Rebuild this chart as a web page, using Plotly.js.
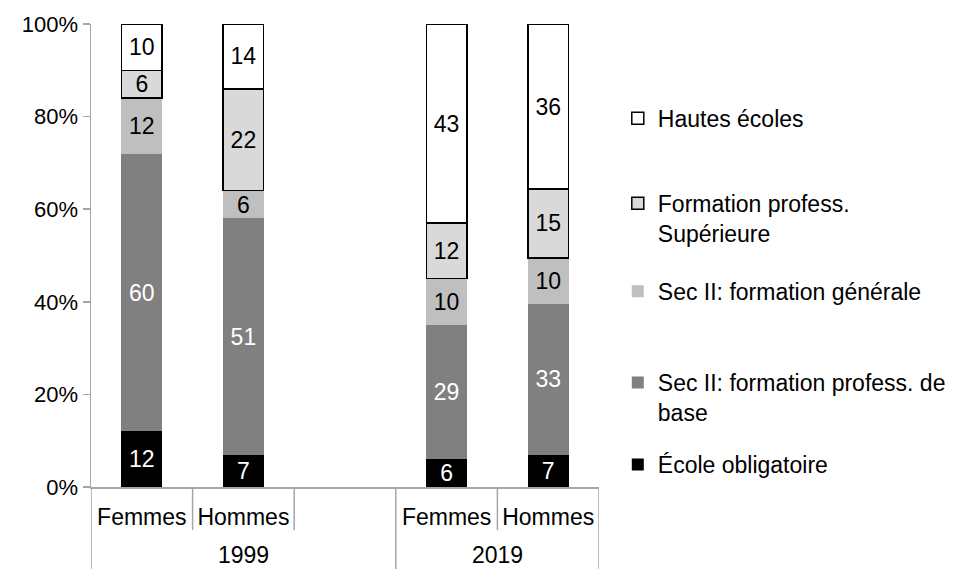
<!DOCTYPE html>
<html><head><meta charset="utf-8">
<script src="https://cdn.plot.ly/plotly-3.0.1.min.js"></script>
<style>html,body{margin:0;padding:0;background:#fff}#chart{width:965px;height:569px}</style>
</head><body><div id="chart"></div><script>
// ---- data ----
const years = ['1999', '1999', '2019', '2019'];
const sexes = ['Femmes', 'Hommes', 'Femmes', 'Hommes'];
const yearGroups = ['1999', '2019'];
const seriesNames = ['École obligatoire', 'Sec II: formation profess. de<br>base', 'Sec II: formation générale', 'Formation profess.<br>Supérieure', 'Hautes écoles'];
const ecoleObligatoire = [12, 7, 6, 7];
const secIIProfBase = [60, 51, 29, 33];
const secIIGenerale = [12, 6, 10, 10];
const formProfSup = [6, 22, 12, 15];
const hautesEcoles = [10, 14, 43, 36];
const yTicks = [0, 20, 40, 60, 80, 100];

// ---- styles ----
const FONT = 'Liberation Sans, Arial, sans-serif';
const FS = 23;
const AXIS = '#a6a6a6';
const series = [ecoleObligatoire, secIIProfBase, secIIGenerale, formProfSup, hautesEcoles];
const fills = ['#000000', '#808080', '#bfbfbf', '#d9d9d9', '#ffffff'];
const outlines = [0, 0, 0, 1.5, 1.5];
const textColors = ['#ffffff', '#ffffff', '#000000', '#000000', '#000000'];
const legendIds = ['legend5', 'legend4', 'legend3', 'legend2', 'legend'];
const legendY = [0.095, 0.272, 0.469, 0.659, 0.843];

// category keys: one per bar, plus an empty slot after the 1999 group
const keys = years.map((y, i) => sexes[i] + ' ' + y);
const GAP = ' ';
const catOrder = [];
const catGroup = [];
yearGroups.forEach((g, gi) => {
  keys.forEach((k, i) => { if (years[i] === g) { catOrder.push(k); catGroup.push(g); } });
  if (gi < yearGroups.length - 1) { catOrder.push(GAP); catGroup.push(g); }
});

const traces = series.map((vals, i) => ({
  type: 'bar',
  name: seriesNames[i],
  x: keys,
  y: vals,
  text: vals.map(String),
  texttemplate: '%{text}',
  textposition: 'inside',
  insidetextanchor: 'middle',
  constraintext: 'none',
  textangle: 0,
  textfont: {family: FONT, size: FS, color: textColors[i]},
  marker: {color: fills[i], line: {color: '#000000', width: outlines[i]}},
  cliponaxis: false,
  legend: legendIds[i],
  hoverinfo: 'skip'
}));

// separators and year labels derived from the category slots
const nCat = catOrder.length;
const shapes = [];
for (let b = 0; b <= nCat; b++) {
  const isGroupEdge = b === 0 || b === nCat || catGroup[b] !== catGroup[b - 1];
  shapes.push({type: 'line', xref: 'x', yref: 'paper', x0: b - 0.5, x1: b - 0.5, y0: 0,
    y1: isGroupEdge ? -0.18 : -0.093, line: {color: AXIS, width: 1.5}, layer: 'below'});
}
const annotations = yearGroups.map(g => {
  const idx = catGroup.map((c, i) => c === g ? i : -1).filter(i => i >= 0);
  return {xref: 'x', yref: 'paper', x: (idx[0] + idx[idx.length - 1]) / 2, y: -0.146,
    text: g, showarrow: false, xanchor: 'center', yanchor: 'middle', borderpad: 0,
    font: {family: FONT, size: FS, color: '#000000'}};
});

const layout = {
  width: 965, height: 569,
  margin: {l: 91, r: 366, t: 24, b: 82},
  paper_bgcolor: '#ffffff', plot_bgcolor: '#ffffff',
  font: {family: FONT, size: FS, color: '#000000'},
  barmode: 'stack', barnorm: 'percent', bargap: 0.6,
  showlegend: true,
  xaxis: {type: 'category', categoryorder: 'array', categoryarray: catOrder, range: [-0.5, nCat - 0.5],
    tickvals: keys, ticktext: sexes, showline: true, linecolor: AXIS, linewidth: 1.5,
    ticks: 'outside', ticklen: 9, tickcolor: 'rgba(0,0,0,0)', showgrid: false, zeroline: false,
    tickfont: {family: FONT, size: FS, color: '#000000'}, fixedrange: true},
  yaxis: {range: [0, 100], tickvals: yTicks, ticktext: yTicks.map(v => v + '%'), showline: true,
    linecolor: AXIS, linewidth: 1.5, ticks: 'outside', ticklen: 7, tickcolor: AXIS, tickwidth: 1.5,
    showgrid: false, zeroline: false, tickfont: {family: FONT, size: 22, color: '#000000'}, fixedrange: true},
  shapes: shapes,
  annotations: annotations
};
legendIds.forEach((id, i) => {
  layout[id] = {x: 1.037, y: legendY[i], xanchor: 'left', yanchor: 'top', valign: 'top',
    bgcolor: 'rgba(0,0,0,0)', borderwidth: 0, font: {family: FONT, size: FS, color: '#000000'}};
});

Plotly.newPlot('chart', traces, layout, {staticPlot: true, displayModeBar: false});
</script></body></html>
